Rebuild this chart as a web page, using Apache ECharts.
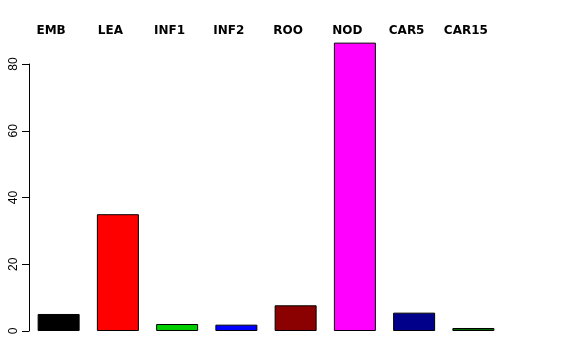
<!DOCTYPE html>
<html>
<head>
<meta charset="utf-8">
<script src="https://cdn.jsdelivr.net/npm/echarts@6/dist/echarts.min.js"></script>
<style>html,body{margin:0;padding:0;background:#fff;}#c{width:576px;height:360px;}</style>
</head>
<body>
<div id="c"></div>
<script>
var categories = ['EMB', 'LEA', 'INF1', 'INF2', 'ROO', 'NOD', 'CAR5', 'CAR15'];
var values = [5.1, 35.0, 2.1, 1.9, 7.7, 86.4, 5.5, 0.9];
var barColors = ['#000000', '#FF0000', '#00CD00', '#0000FF', '#8B0000', '#FF00FF', '#00008B', '#006400'];
var yTicks = [0, 20, 40, 60, 80];

var chart = echarts.init(document.getElementById('c'), null, {renderer: 'canvas'});
var axisBottom = 29, plotLeft = 29, plotRight = 73;
var pxPerUnit = 267 / 80;
var barMax = 90;
var option = {
  animation: false,
  backgroundColor: '#ffffff',
  grid: [
    {left: plotLeft, right: plotRight, top: 64, bottom: axisBottom},
    {left: plotLeft, right: plotRight, bottom: axisBottom, height: barMax * pxPerUnit}
  ],
  xAxis: [
    {
      gridIndex: 0, type: 'category', data: categories, position: 'top',
      axisLine: {show: false}, axisTick: {show: false},
      axisLabel: {
        margin: 27, interval: 0,
        fontFamily: 'DejaVu Sans', fontWeight: 'bold', fontSize: 12, color: '#000',
        formatter: function (v) { return '{a|' + v + '}'; },
        rich: {a: {fontFamily: 'DejaVu Sans', fontWeight: 'bold', fontSize: 12, color: '#000', padding: [0, 15, 0, 0]}}
      }
    },
    {
      gridIndex: 1, type: 'category', data: categories, boundaryGap: true,
      axisLine: {show: false}, axisTick: {show: false}, axisLabel: {show: false}
    }
  ],
  yAxis: [
    {
      gridIndex: 0, type: 'value', min: 0, max: 80, interval: 20,
      axisLine: {show: true, lineStyle: {color: '#000', width: 1}},
      axisTick: {show: true, inside: false, length: 7, lineStyle: {color: '#000'}},
      axisLabel: {
        rotate: 90, margin: 9, fontFamily: 'Liberation Sans', fontSize: 12, color: '#000',
        customValues: yTicks
      },
      splitLine: {show: false}
    },
    {
      gridIndex: 1, type: 'value', min: 0, max: barMax,
      axisLine: {show: false}, axisTick: {show: false}, axisLabel: {show: false}, splitLine: {show: false}
    }
  ],
  series: [
    {
      type: 'bar', xAxisIndex: 1, yAxisIndex: 1, barWidth: 42,
      data: values.map(function (v, i) {
        return {value: v, itemStyle: {color: barColors[i], borderColor: '#000', borderWidth: 1}};
      })
    }
  ]
};
chart.setOption(option);
</script>
</body>
</html>
